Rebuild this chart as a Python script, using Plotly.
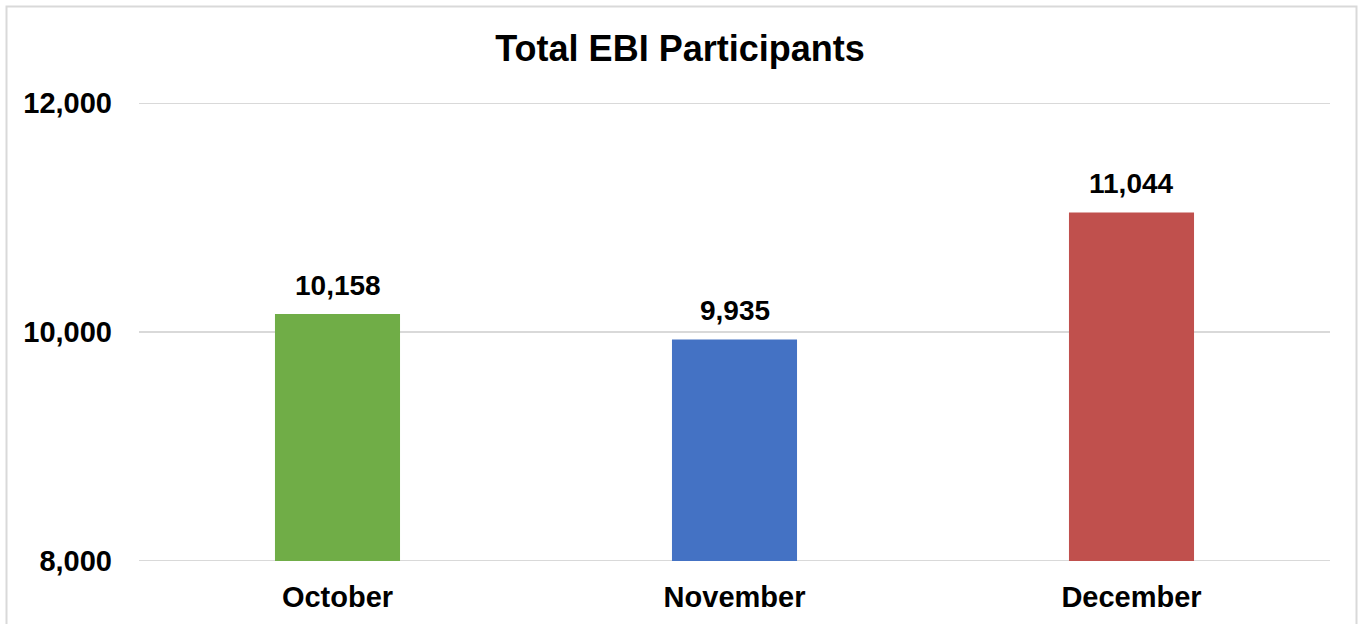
import plotly.graph_objects as go

months = ["October", "November", "December"]
participants = [10158, 9935, 11044]
bar_colors = ["#70AD47", "#4472C4", "#C0504D"]
y_ticks = [8000, 10000, 12000]

W, H = 1358, 624
L, R, T, B = 139, 28, 103, 63
pw, ph = W - L - R, H - T - B

fig = go.Figure()
fig.add_trace(go.Bar(
    x=months, y=participants, marker=dict(color=bar_colors, line=dict(width=0)),
    width=0.315, hoverinfo="skip", showlegend=False,
))

for m, v in zip(months, participants):
    fig.add_annotation(x=m, y=v, text=f"<b>{v:,}</b>", showarrow=False, yanchor="bottom",
                       yshift=11, font=dict(family="Liberation Sans", size=28, color="#000000"))

# horizontal gridlines (drawn explicitly so the edge ones are visible)
for v in y_ticks:
    fig.add_shape(type="line", xref="paper", yref="y", x0=0, x1=1, y0=v, y1=v,
                  line=dict(color="#D9D9D9", width=2), layer="below")

def px_x(p):
    return (p - L) / pw

def px_y(p):
    return (H - B - p) / ph

fig.add_shape(type="rect", xref="paper", yref="paper",
              x0=px_x(6.5), x1=px_x(1356.5), y0=px_y(640), y1=px_y(6.5),
              line=dict(color="#D9D9D9", width=2), fillcolor="rgba(0,0,0,0)", layer="below")

fig.update_layout(
    width=W, height=H,
    margin=dict(l=L, r=R, t=T, b=B),
    paper_bgcolor="white", plot_bgcolor="white",
    font=dict(family="Liberation Sans", color="#000000"),
    title=dict(text="<b>Total EBI Participants</b>", x=0.5 * (W + 2) / W, xanchor="center",
               y=1 - 48 / H, yanchor="middle", yref="container",
               font=dict(family="Liberation Sans", size=36, color="#000000")),
    bargap=0.685,
)
fig.update_xaxes(
    showgrid=False, showline=False, zeroline=False, ticks="",
    tickvals=months, ticktext=[f"<b>{m}</b>" for m in months],
    tickfont=dict(family="Liberation Sans", size=29, color="#000000"),
    ticklabelstandoff=16,
)
fig.update_yaxes(
    range=[8000, 12000], tickvals=y_ticks, ticktext=[f"<b>{v:,}</b>" for v in y_ticks],
    showgrid=False, zeroline=False, showline=False, ticks="",
    tickfont=dict(family="Liberation Sans", size=29, color="#000000"),
    ticklabelstandoff=26,
)

fig.write_html("out.html", config={"displayModeBar": False},
               post_script="document.body.style.margin='0';")
